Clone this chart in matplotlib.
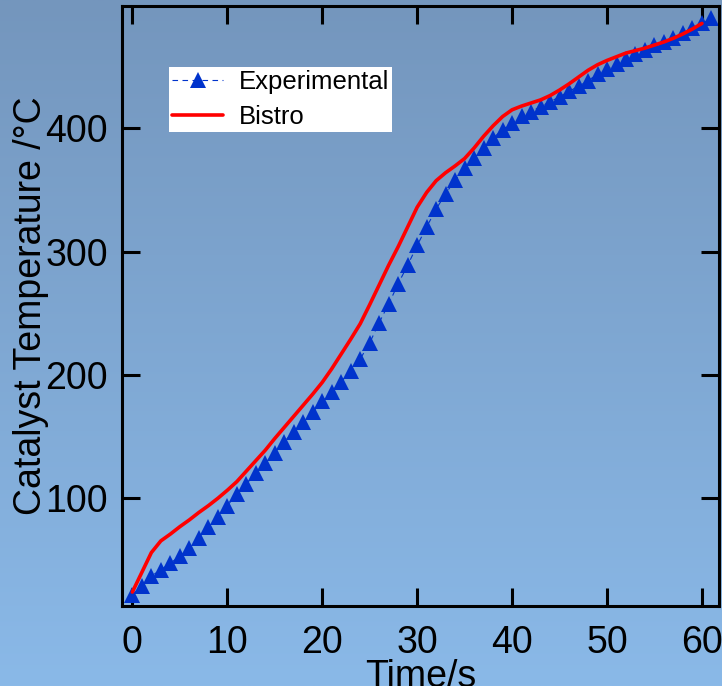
import numpy as np
import matplotlib
matplotlib.use("Agg")
import matplotlib.pyplot as plt
from matplotlib.colors import LinearSegmentedColormap

plt.rcParams['font.family'] = ['Liberation Sans', 'DejaVu Sans']

# Measured catalyst temperature, sampled every second
exp_time = list(range(0, 62))
exp_temp = [22, 29, 37, 42, 47.5, 53, 60, 68, 77, 85,
            94, 103.5, 111.5, 120.4, 128.5, 137, 146, 154, 162, 170,
            178.5, 186.5, 194.5, 203, 213, 226, 242.5, 257.5, 274, 289,
            305, 320, 334.5, 347, 358, 367.5, 375.5, 384, 392, 399,
            404, 410, 413.5, 417.5, 421.5, 425.5, 430, 434, 438.5, 444,
            448, 452.5, 456.5, 460.5, 463.5, 467.5, 470, 473, 477, 481,
            485, 489]

# Simulated catalyst temperature (Bistro model)
sim_time = list(range(0, 61))
sim_temp = [24, 40, 56, 65.5, 71, 77, 82.5, 88.5, 94, 100,
            106.5, 113.5, 122, 130.5, 139, 148.5, 157.5, 166.5, 175.5, 184.5,
            194, 205, 217, 229, 241.5, 257, 273, 289, 304, 320,
            336, 348, 357.5, 364, 369.5, 375.5, 384, 393.5, 402, 409.5,
            415, 418, 420.5, 423, 426.5, 431, 436, 441.5, 447, 451.5,
            455, 458, 461, 463, 465, 467.5, 470, 473, 476.5, 480.5,
            485]

x_ticks = [0, 10, 20, 30, 40, 50, 60]
y_ticks = [100, 200, 300, 400]

fig = plt.figure(figsize=(7.22, 6.86), dpi=100)

# vertical gradient background
bg = fig.add_axes([0, 0, 1, 1], zorder=-10)
cmap = LinearSegmentedColormap.from_list(
    "bg", [(116 / 255, 150 / 255, 189 / 255), (138 / 255, 185 / 255, 232 / 255)])
bg.imshow(np.linspace(0, 1, 256).reshape(-1, 1), aspect='auto', cmap=cmap,
          extent=[0, 1, 0, 1], origin='upper')
bg.axis('off')

ax = fig.add_axes([0.1686, 0.1166, 0.8273, 0.8746])
ax.patch.set_alpha(0)

ax.plot(exp_time, exp_temp, color='#0033cc', lw=0.8, dashes=[5, 4],
        marker='^', markersize=11, markeredgewidth=0, label='Experimental',
        zorder=2)
ax.plot(sim_time, sim_temp, color='#ff0000', lw=2.6, label='Bistro',
        solid_capstyle='round', zorder=3)

ax.set_xlim(-1.12, 61.8)
ax.set_ylim(12.7, 499.1)
ax.set_xticks(x_ticks)
ax.set_yticks(y_ticks)

for s in ax.spines.values():
    s.set_linewidth(2.2)
ax.tick_params(direction='in', length=13, width=2.2, labelsize=27,
               top=True, right=True)
ax.tick_params(axis='x', pad=14)
ax.tick_params(axis='y', pad=10)

ax.set_xlabel('Time/s', fontsize=27, labelpad=-2)
ax.set_ylabel('Catalyst Temperature /°C', fontsize=27)
ax.yaxis.set_label_coords(-0.122, 0.5)

leg = ax.legend(loc='upper left', bbox_to_anchor=(0.079, 0.898),
                fontsize=18.5, frameon=True, fancybox=False, framealpha=1,
                edgecolor='none', facecolor='white', borderpad=0.12,
                handlelength=2.0, handletextpad=0.6, labelspacing=0.42,
                borderaxespad=0, numpoints=1)

fig.savefig('out.png', dpi=100)
